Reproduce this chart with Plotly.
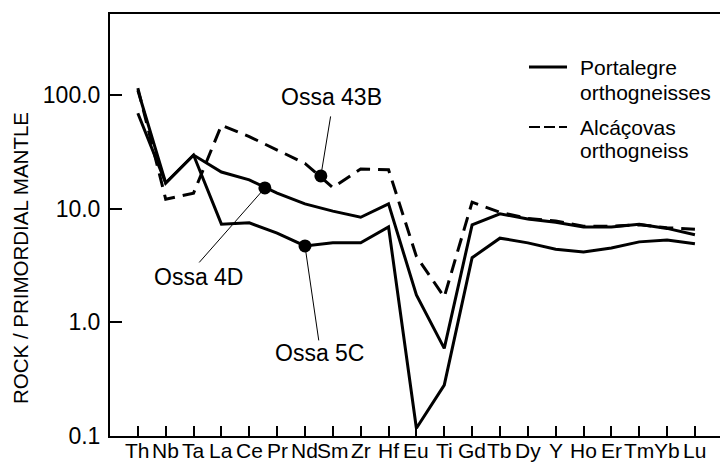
import plotly.graph_objects as go
import math

elements = ["Th", "Nb", "Ta", "La", "Ce", "Pr", "Nd", "Sm", "Zr", "Hf", "Eu",
            "Ti", "Gd", "Tb", "Dy", "Y", "Ho", "Er", "Tm", "Yb", "Lu"]

ossa_4d = [110, 16.8, 29.6, 21, 17.9, 13.7, 11.0, 9.5, 8.4, 11.0, 1.74,
           0.59, 7.2, 9.0, 8.1, 7.6, 6.9, 6.9, 7.3, 6.7, 5.9]
ossa_5c = [69, 16.8, 29.6, 7.3, 7.5, 6.1, 4.7, 5.0, 5.0, 6.9, 0.117,
           0.28, 3.7, 5.5, 5.0, 4.4, 4.15, 4.5, 5.1, 5.3, 4.9]
ossa_43b = [115, 12.1, 13.7, 54, 43, 33, 25, 15.3, 22.3, 22, 3.8,
            1.67, 11.4, 9.3, 8.2, 7.8, 7.0, 7.0, 7.2, 6.8, 6.6]

y_tick_vals = [0.1, 1, 10, 100]
y_tick_text = ["0.1", "1.0", "10.0", "100.0"]

# sample labels: name, position along element axis, value
label_names = ["Ossa 43B", "Ossa 4D", "Ossa 5C"]
label_x = [6.57, 4.56, 6.0]
label_y = [19.4, 15.2, 4.7]

legend_lines = [["Portalegre", "orthogneisses"], ["Alcáçovas", "orthogneiss"]]

FONT = "Liberation Sans, Arial, sans-serif"
NARROW = "Liberation Sans Narrow, Arial Narrow, Liberation Sans, sans-serif"
xi = list(range(len(elements)))

L, T, W, H = 110, 14, 610, 422


def px(xp):
    return (xp - L) / W


def py(yp):
    return (T + H - yp) / H


fig = go.Figure()
fig.add_trace(go.Scatter(x=xi, y=ossa_4d, mode="lines",
                         line=dict(color="black", width=3), showlegend=False))
fig.add_trace(go.Scatter(x=xi, y=ossa_5c, mode="lines",
                         line=dict(color="black", width=3), showlegend=False))
fig.add_trace(go.Scatter(x=xi, y=ossa_43b, mode="lines",
                         line=dict(color="black", width=3, dash="14px,8px"),
                         showlegend=False))
fig.add_trace(go.Scatter(x=label_x, y=label_y, mode="markers",
                         marker=dict(color="black", size=13),
                         showlegend=False))

# x tick labels (placed as text just below the axis)
for i, el in zip(xi, elements):
    fig.add_annotation(x=i, y=py(463), xref="x", yref="paper", text=el,
                       showarrow=False, xanchor="center", yanchor="bottom",
                       borderpad=0,
                       font=dict(family=NARROW, size=21, color="black"))

# leader-line end offsets and text offsets (pixels relative to dots)
leader = [(10, -61), (-67, 76), (14, 96)]
text_off = [(11, 79), (-66, -89), (15, -107)]
for name, lx, ly, (ax, ay), (tx, ty) in zip(label_names, label_x, label_y, leader, text_off):
    fig.add_annotation(x=lx, y=math.log10(ly), text="", showarrow=True,
                       arrowhead=0, arrowwidth=1, arrowcolor="black",
                       ax=ax, ay=ay, standoff=0, startstandoff=0)
    fig.add_annotation(x=lx, y=math.log10(ly), text=name, showarrow=False,
                       xshift=tx, yshift=ty,
                       font=dict(family=FONT, size=23, color="black"))

# legend (drawn manually)
fig.add_shape(type="line", xref="paper", yref="paper",
              x0=px(529), x1=px(567), y0=py(67), y1=py(67),
              line=dict(color="black", width=3))
fig.add_shape(type="line", xref="paper", yref="paper",
              x0=px(529), x1=px(567), y0=py(127), y1=py(127),
              line=dict(color="black", width=2, dash="11px,4px"))
for (a, b), (ya, yb) in zip(legend_lines, [(67, 92), (127, 151)]):
    for txt, yy in ((a, ya), (b, yb)):
        fig.add_annotation(text=txt, xref="paper", yref="paper",
                           x=px(578), y=py(yy), xanchor="left", yanchor="middle",
                           showarrow=False,
                           font=dict(family=FONT, size=21, color="black"))

fig.add_annotation(text="ROCK / PRIMORDIAL MANTLE", textangle=-90,
                   xref="paper", yref="paper",
                   x=px(20), y=py(258),
                   showarrow=False, xanchor="center", yanchor="middle",
                   font=dict(family=FONT, size=20.5, color="black"))

fig.update_layout(
    width=720, height=463,
    margin=dict(l=L, r=720 - L - W, t=T, b=463 - T - H),
    paper_bgcolor="white", plot_bgcolor="white",
    font=dict(family=FONT, size=20, color="black"),
    showlegend=False,
    xaxis=dict(range=[-1, 20.9], tickvals=xi, showticklabels=False,
               showgrid=False, zeroline=False, showline=True, linecolor="black",
               linewidth=2, mirror=True, ticks="inside", ticklen=10, tickwidth=1.5,
               tickcolor="black", automargin=False),
    yaxis=dict(type="log", range=[-1, 2.712], tickvals=y_tick_vals, ticktext=y_tick_text,
               showgrid=False, zeroline=False, showline=True, linecolor="black",
               linewidth=2, mirror=False, ticks="inside", ticklen=12, tickwidth=1.5,
               tickcolor="black", automargin=False, ticklabelstandoff=3,
               tickfont=dict(family=FONT, size=23, color="black")),
)

fig.write_html("out.html", config={"displayModeBar": False},
               post_script="document.body.style.margin='0';")
